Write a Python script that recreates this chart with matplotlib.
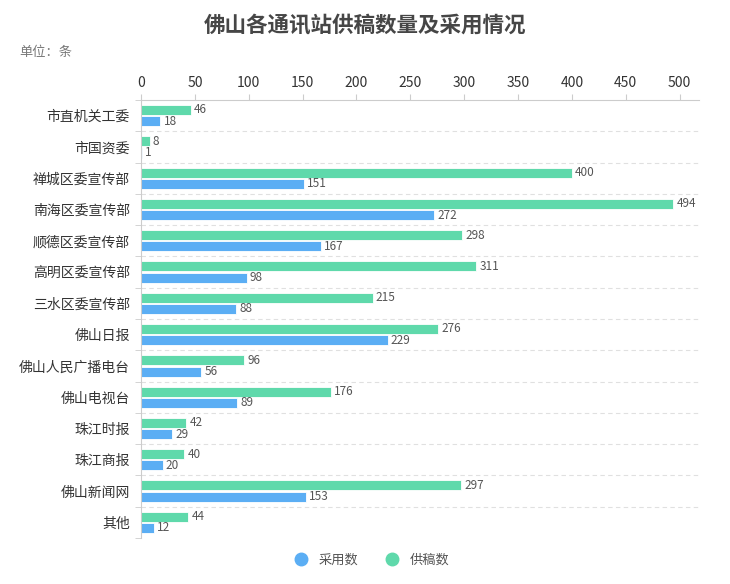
import matplotlib
matplotlib.use('Agg')
import matplotlib.pyplot as plt
import numpy as np
from matplotlib.lines import Line2D

plt.rcParams['font.family'] = ['Noto Sans CJK SC', 'DejaVu Sans']

categories = ['市直机关工委', '市国资委', '禅城区委宣传部', '南海区委宣传部', '顺德区委宣传部',
              '高明区委宣传部', '三水区委宣传部', '佛山日报', '佛山人民广播电台', '佛山电视台',
              '珠江时报', '珠江商报', '佛山新闻网', '其他']
supplied = [46, 8, 400, 494, 298, 311, 215, 276, 96, 176, 42, 40, 297, 44]
adopted = [18, 1, 151, 272, 167, 98, 88, 229, 56, 89, 29, 20, 153, 12]
xticks = [0, 50, 100, 150, 200, 250, 300, 350, 400, 450, 500]

green = '#5fd9ab'
blue = '#5baef4'
axis_col = '#cccccc'
text_col = '#555555'

fig = plt.figure(figsize=(7.3, 5.84), dpi=100)
ax = fig.add_axes([0.1932, 0.0788, 0.7643, 0.75])

n = len(categories)
y = np.arange(n)
h = 0.32
ax.barh(y - h / 2 - 0.02, supplied, height=h, color=green, edgecolor='white', linewidth=0.6)
ax.barh(y + h / 2 + 0.02, adopted, height=h, color=blue, edgecolor='white', linewidth=0.6)

for i in range(n):
    ax.text(supplied[i] + 3, y[i] - h / 2 - 0.02, str(supplied[i]), va='center', ha='left',
            fontsize=8.5, color=text_col)
    ax.text(adopted[i] + 3, y[i] + h / 2 + 0.02, str(adopted[i]), va='center', ha='left',
            fontsize=8.5, color=text_col)

ax.set_ylim(n - 0.5, -0.5)
ax.set_xlim(0, 518)
ax.set_yticks(y)
ax.set_yticklabels(categories, fontsize=10, color='#333333')
ax.set_yticks(np.arange(-0.5, n, 1), minor=True)
ax.tick_params(axis='y', which='major', length=0, pad=8)
ax.tick_params(axis='y', which='minor', length=4, color=axis_col, direction='out')

ax.xaxis.tick_top()
ax.set_xticks(xticks)
ax.set_xticklabels([str(t) for t in xticks], fontsize=10, color='#333333')
ax.tick_params(axis='x', length=4, color=axis_col, pad=3)

for b in np.arange(0.5, n - 1, 1):
    ax.axhline(b, color='#e0e0e0', linewidth=0.8, linestyle=(0, (4, 3)), zorder=0)

for s in ['right', 'bottom']:
    ax.spines[s].set_visible(False)
ax.spines['top'].set_color(axis_col)
ax.spines['left'].set_color(axis_col)

fig.text(0.5, 0.955, '佛山各通讯站供稿数量及采用情况', ha='center', va='center',
         fontsize=15.5, fontweight='bold', color='#464646')
fig.text(0.027, 0.91, '单位：条', ha='left', va='center', fontsize=9.5, color='#777777')

handles = [Line2D([], [], marker='o', linestyle='', markersize=9, color=blue),
           Line2D([], [], marker='o', linestyle='', markersize=9, color=green)]
fig.legend(handles, ['采用数', '供稿数'], loc='center', bbox_to_anchor=(0.505, 0.041), ncol=2,
           frameon=False, fontsize=9.5, handletextpad=0.3, columnspacing=1.6,
           labelcolor='#555555')

fig.savefig('out.png', dpi=100)
